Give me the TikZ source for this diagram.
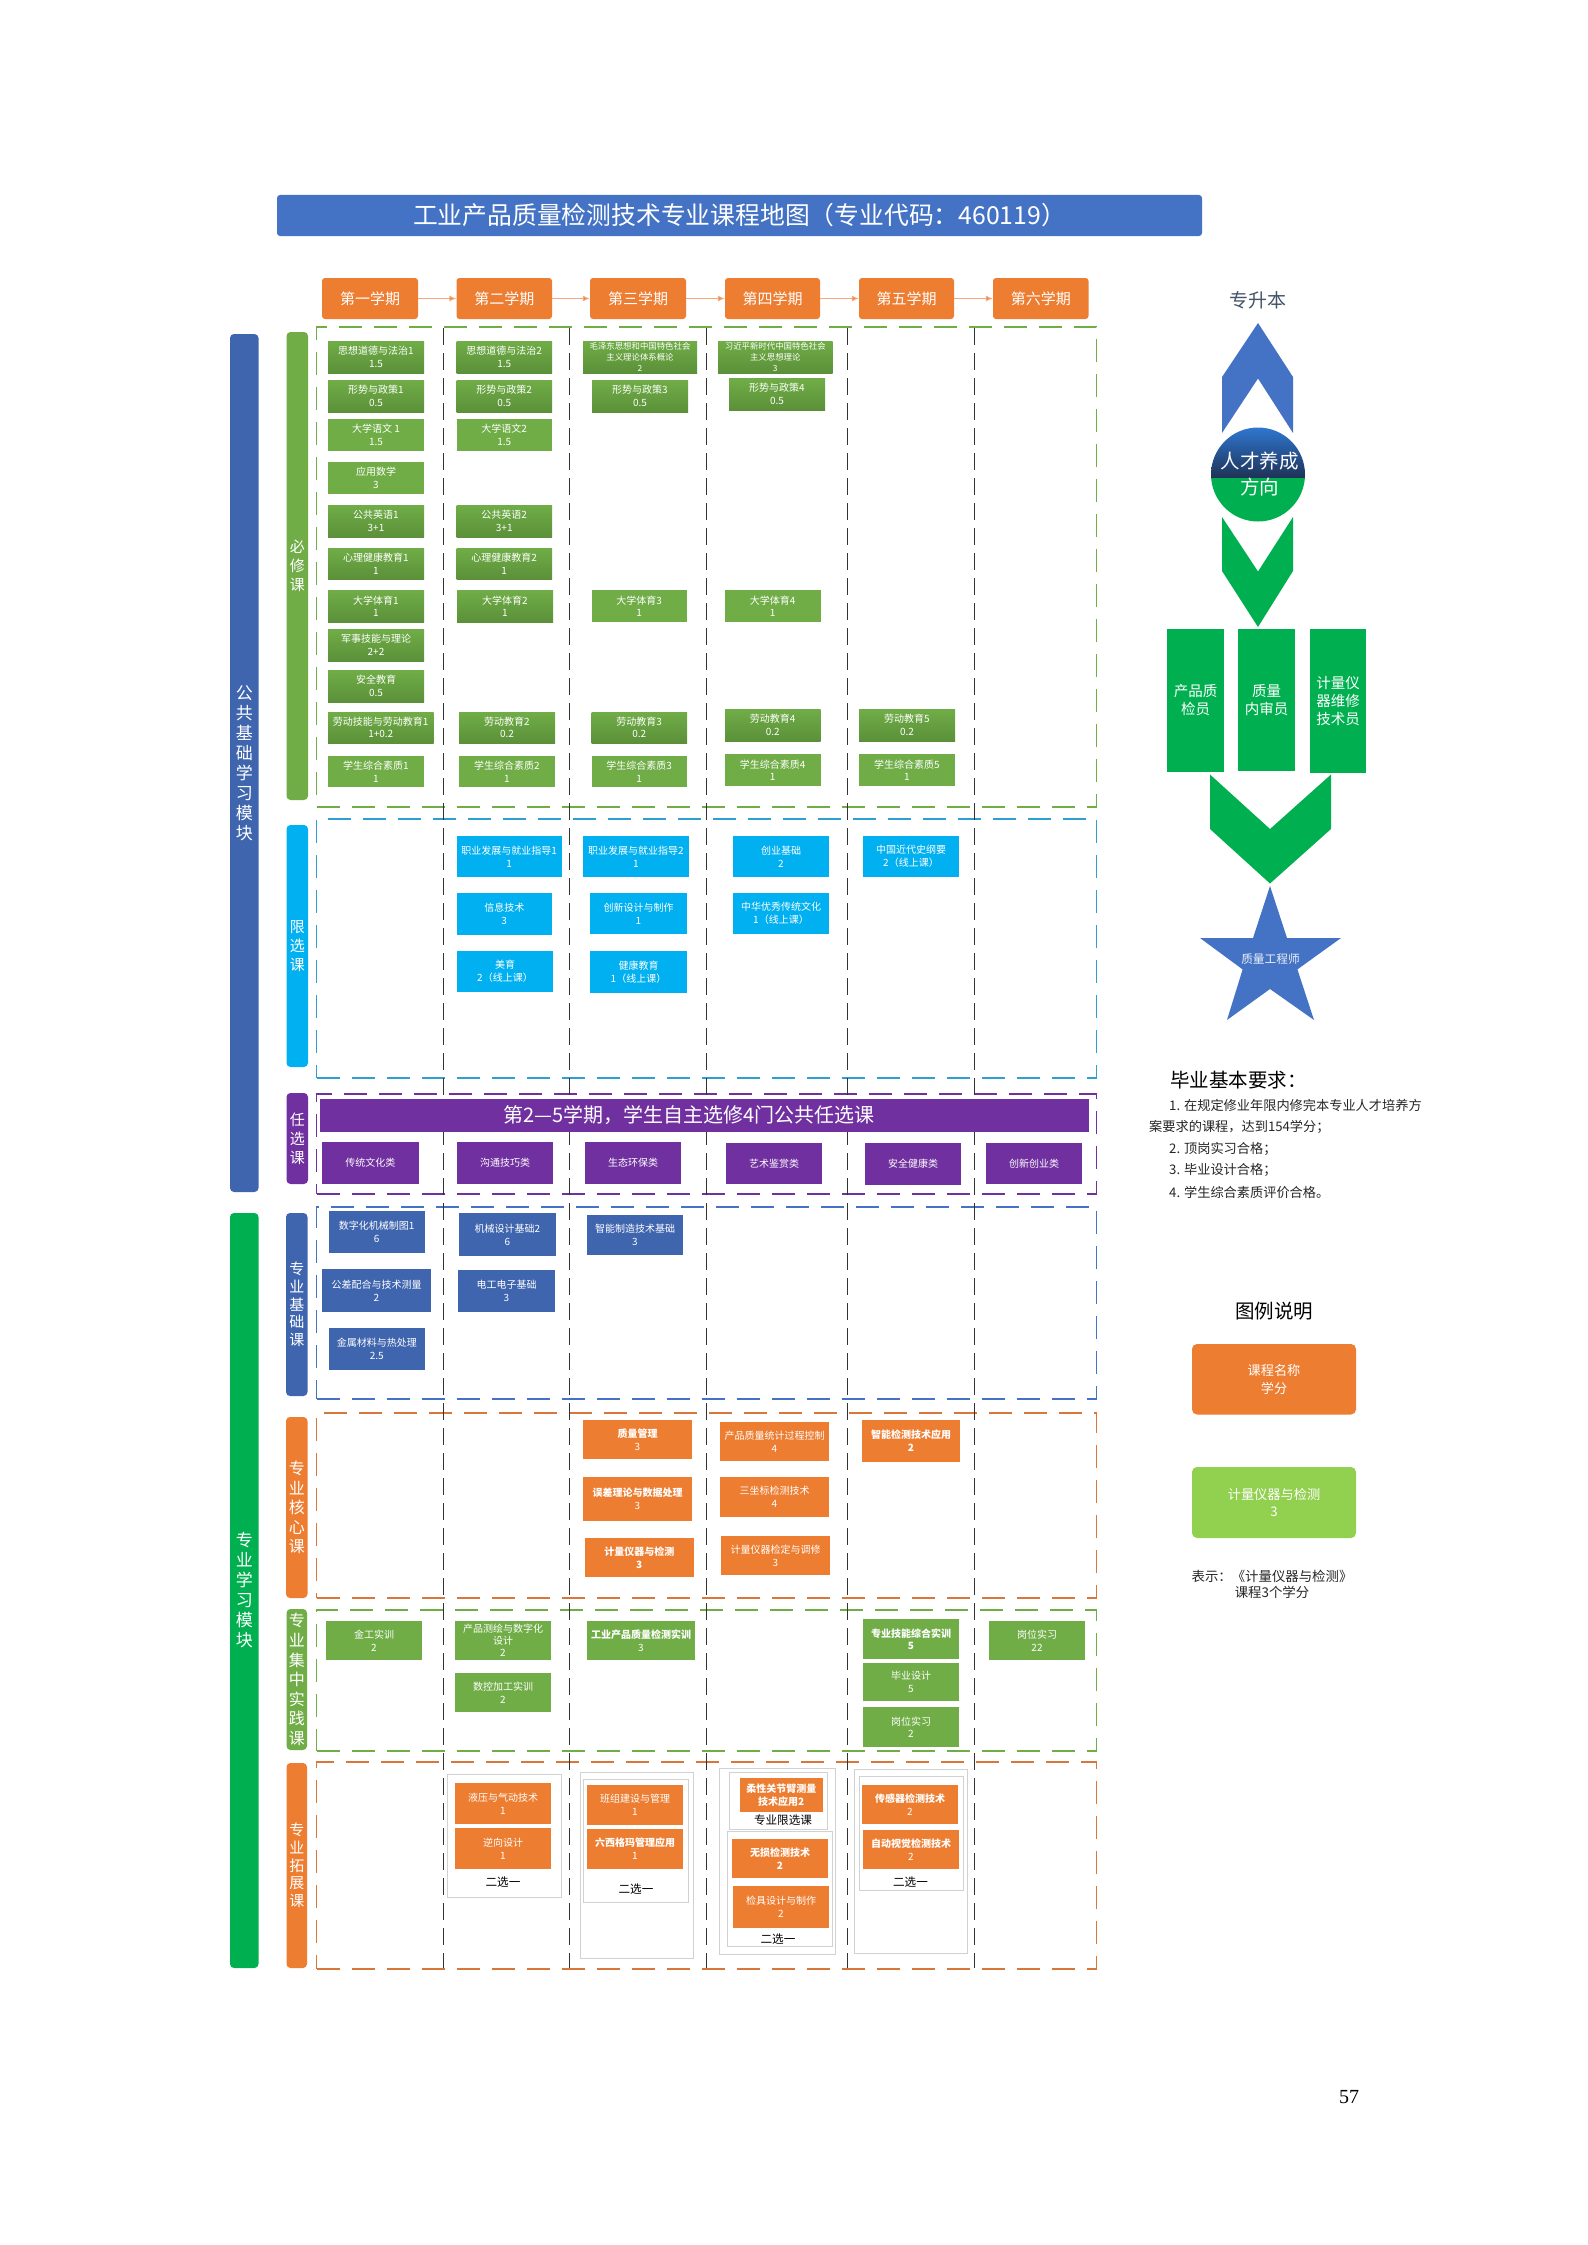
\documentclass[tikz,border=0pt]{standalone}
\usepackage{fontspec}
\setmainfont{Noto Sans CJK SC}
\newfontfamily\pagefont{Liberation Serif}
\usetikzlibrary{arrows.meta,calc}
\definecolor{tblue}{HTML}{4472C4}
\definecolor{dblue}{HTML}{3F65AE}
\definecolor{sky}{HTML}{00B0F0}
\definecolor{skyd}{HTML}{2E9FD0}
\definecolor{pur}{HTML}{7030A0}
\definecolor{org}{HTML}{ED7D31}
\definecolor{orgd}{HTML}{D9763A}
\definecolor{grn}{HTML}{70AD47}
\definecolor{grnd}{HTML}{5B9039}
\definecolor{grnb}{HTML}{00B050}
\definecolor{lime}{HTML}{92D050}
\definecolor{slate}{HTML}{44546A}
\definecolor{arl}{HTML}{F4A87C}
\newcommand{\fs}[2]{\fontsize{#1}{#2}\selectfont}
\newcommand{\bx}[7]{%
  \pgfmathsetmacro\bxcx{(#2+#4)/2}\pgfmathsetmacro\bxcy{(#3+#5)/2}%
  \pgfmathsetmacro\bxw{#4-#2}\pgfmathsetmacro\bxh{#5-#3}%
  \node[#6,minimum width=\bxw pt,minimum height=\bxh pt] (#1) at (\bxcx,\bxcy) {#7};}
\tikzset{
  crs/.style={inner sep=0pt,align=center,text=white,font=\fs{10}{12.5}},
  gg/.style={crs,top color=grn,bottom color=grnd},
  gf/.style={crs,fill=grn},
  sk/.style={crs,fill=sky,font=\fs{10}{13}},
  pu/.style={crs,fill=pur},
  db/.style={crs,fill=dblue,font=\fs{10}{13}},
  og/.style={crs,fill=org,font=\fs{10}{13}},
  ogb/.style={og,font=\fs{10}{13}\bfseries},
  gfb/.style={gf,font=\fs{10}{12.5}\bfseries},
  tiny3/.style={font=\fs{8.4}{11.4}},
  sem/.style={inner sep=0pt,align=center,text=white,fill=org,rounded corners=3pt,font=\fs{15}{18}},
  bar/.style={inner sep=0pt,align=center,text=white,rounded corners=4pt,font=\fs{15}{19}},
  obar/.style={bar,font=\fs{17}{20}},
  frame/.style={draw=#1,line width=1.3pt,dash pattern=on 23pt off 12pt,inner sep=0pt},
  vline/.style={draw=black!80,line width=0.9pt,dash pattern=on 17pt off 8pt},
  semarrow/.style={draw=arl,line width=1pt,-{Latex[length=7pt,width=6pt,fill=org]}},
  grp/.style={draw=black!18,line width=0.7pt,fill=white,inner sep=0pt},
  lbl/.style={inner sep=0pt,text=black,align=center,font=\fs{11.6}{14}},
  job/.style={crs,fill=grnb,font=\fs{14.5}{18}},
  req/.style={inner sep=0pt,anchor=west,text=black!85,font=\fs{13.2}{15}},
}
\begin{document}
\begin{tikzpicture}[x=1pt,y=-1pt]
\useasboundingbox (0,0) rectangle (1587,2245);
\fill[white] (0,0) rectangle (1587,2245);
% title
\bx{title}{277}{195}{1202}{236}{fill=tblue,rounded corners=3pt,inner sep=0pt,text=white,font=\fs{24.8}{28}}{工业产品质量检测技术专业课程地图（专业代码：460119）}
% semesters
\bx{s1}{322}{278}{418}{319}{sem}{第一学期}
\bx{s2}{456.5}{278}{552}{319}{sem}{第二学期}
\bx{s3}{590}{278}{686}{319}{sem}{第三学期}
\bx{s4}{725}{278}{820}{319}{sem}{第四学期}
\bx{s5}{859}{278}{954}{319}{sem}{第五学期}
\bx{s6}{993}{278}{1088.5}{319}{sem}{第六学期}
\draw[semarrow] (s1) -- (s2);
\draw[semarrow] (s2) -- (s3);
\draw[semarrow] (s3) -- (s4);
\draw[semarrow] (s4) -- (s5);
\draw[semarrow] (s5) -- (s6);
% frames
\bx{f1}{316.5}{327}{1096.5}{807}{frame=grn}{}
\bx{f2}{316.5}{819}{1096.5}{1078}{frame=skyd}{}
\bx{f3}{316.5}{1094}{1096.5}{1194}{frame=pur}{}
\bx{f4}{316.5}{1207}{1096.5}{1399}{frame=tblue}{}
\bx{f5}{316.5}{1413}{1096.5}{1598}{frame=orgd}{}
\bx{f6}{316.5}{1610}{1096.5}{1751}{frame=grn}{}
\bx{f7}{316.5}{1762}{1096.5}{1969}{frame=orgd}{}
% semester separators
\foreach \vx [count=\vi] in {443,569,706,847,974}{
  \coordinate (va\vi) at (\vx,328);
  \coordinate (vb\vi) at (\vx,1968);
  \draw[vline] (va\vi) -- (vb\vi);
}
% outer bars
\bx{mod1}{230}{334}{258.5}{1192}{obar,fill=dblue}{公\\共\\基\\础\\学\\习\\模\\块}
\bx{mod2}{230}{1213}{258.5}{1968}{obar,fill=grnb}{专\\业\\学\\习\\模\\块}
% inner bars
\bx{b1}{286.5}{332}{308}{800}{bar,fill=grn}{必\\修\\课}
\bx{b2}{286.5}{825}{308}{1067}{bar,fill=sky}{限\\选\\课}
\bx{b3}{286.5}{1093}{308}{1184}{bar,fill=pur}{任\\选\\课}
\bx{b4}{286}{1213}{307.5}{1396}{bar,fill=dblue,font=\fs{15}{17.7}}{专\\业\\基\\础\\课}
\bx{b5}{286}{1417}{307.5}{1598}{bar,fill=org,font=\fs{16}{19.4}}{专\\业\\核\\心\\课}
\bx{b6}{286.5}{1609}{307}{1750}{bar,fill=grn,font=\fs{16}{19.6}}{专\\业\\集\\中\\实\\践\\课}
\bx{b7}{286.5}{1763}{307}{1968}{bar,fill=org,font=\fs{15}{17.7}}{专\\业\\拓\\展\\课}
% required courses col 1
\bx{a1}{328}{341}{424}{373}{gg}{思想道德与法治1\\1.5}
\bx{a2}{328}{380}{424}{412}{gg}{形势与政策1\\0.5}
\bx{a3}{328}{419}{424}{451}{gf}{大学语文 1\\1.5}
\bx{a4}{328}{462}{424}{494}{gf}{应用数学\\3}
\bx{a5}{328}{505}{424}{537}{gg}{公共英语1\\3+1}
\bx{a6}{328}{548}{424}{579}{gg}{心理健康教育1\\1}
\bx{a7}{328}{590}{424}{622}{gg}{大学体育1\\1}
\bx{a8}{328}{629}{424}{661}{gg}{军事技能与理论\\2+2}
\bx{a9}{328}{670}{424}{702}{gg}{安全教育\\0.5}
\bx{a10}{328}{712}{433.5}{743}{gg}{劳动技能与劳动教育1\\1+0.2}
\bx{a11}{328}{756}{424}{787}{gf}{学生综合素质1\\1}
% col 2
\bx{c1}{456.5}{341}{552}{373}{gg}{思想道德与法治2\\1.5}
\bx{c2}{456.5}{380}{552}{412}{gg}{形势与政策2\\0.5}
\bx{c3}{456.5}{419}{552}{451}{gf}{大学语文2\\1.5}
\bx{c5}{456.5}{505}{552}{537}{gg}{公共英语2\\3+1}
\bx{c6}{456.5}{548}{552}{579}{gg}{心理健康教育2\\1}
\bx{c7}{457}{590}{553}{622}{gg}{大学体育2\\1}
\bx{c10}{459}{712}{555}{743}{gg}{劳动教育2\\0.2}
\bx{c11}{459}{756}{555}{787}{gf}{学生综合素质2\\1}
% col 3
\bx{d1}{583}{341}{697}{373}{gg,tiny3}{毛泽东思想和中国特色社会\\主义理论体系概论\\2}
\bx{d2}{592}{380}{688}{412}{gg}{形势与政策3\\0.5}
\bx{d7}{591.5}{590}{687}{622}{gf}{大学体育3\\1}
\bx{d10}{591.5}{712}{687}{743}{gg}{劳动教育3\\0.2}
\bx{d11}{591.5}{756}{687}{787}{gf}{学生综合素质3\\1}
% col 4
\bx{e1}{718}{341}{832.5}{373}{gg,tiny3}{习近平新时代中国特色社会\\主义思想理论\\3}
\bx{e2}{729}{378}{825}{410}{gg}{形势与政策4\\0.5}
\bx{e7}{725}{590}{820.5}{622}{gf}{大学体育4\\1}
\bx{e10}{725}{709}{820.5}{741}{gg}{劳动教育4\\0.2}
\bx{e11}{725}{754}{820.5}{786}{gf}{学生综合素质4\\1}
% col 5
\bx{g10}{859}{709}{955}{741}{gg}{劳动教育5\\0.2}
\bx{g11}{859}{754}{955}{786}{gf}{学生综合素质5\\1}
% limited electives
\bx{h1}{456.5}{836}{562}{877}{sk}{职业发展与就业指导1\\1}
\bx{h2}{583}{836}{689}{877}{sk}{职业发展与就业指导2\\1}
\bx{h3}{733}{836}{829}{877}{sk}{创业基础\\2}
\bx{h4}{863}{836}{959}{877}{sk}{中国近代史纲要\\2（线上课）}
\bx{h5}{456.5}{893}{552}{935}{sk}{信息技术\\3}
\bx{h6}{590}{893}{687}{934}{sk}{创新设计与制作\\1}
\bx{h7}{733}{893}{829}{934}{sk}{中华优秀传统文化\\1（线上课）}
\bx{h8}{457}{951}{553}{992}{sk}{美育\\2（线上课）}
\bx{h9}{590}{951}{687}{993}{sk}{健康教育\\1（线上课）}
% free electives
\bx{banner}{320}{1099}{1088.5}{1132}{pu,font=\fs{20}{24}}{\hspace*{-30pt}第2—5学期，学生自主选修4门公共任选课}
\bx{i1}{322}{1142}{418.5}{1184}{pu}{传统文化类}
\bx{i2}{457}{1142}{553}{1184}{pu}{沟通技巧类}
\bx{i3}{585}{1142}{681}{1184}{pu}{生态环保类}
\bx{i4}{726}{1143}{822}{1184}{pu}{艺术鉴赏类}
\bx{i5}{865}{1143}{961}{1185}{pu}{安全健康类}
\bx{i6}{986}{1143}{1082}{1184}{pu}{创新创业类}
% foundation
\bx{j1}{328.5}{1211}{425}{1253}{db}{数字化机械制图1\\6}
\bx{j2}{322}{1269}{431}{1312}{db}{公差配合与技术测量\\2}
\bx{j3}{328.5}{1328}{425}{1370}{db}{金属材料与热处理\\2.5}
\bx{j4}{459}{1213}{556}{1256}{db}{机械设计基础2\\6}
\bx{j5}{458}{1270}{555}{1312}{db}{电工电子基础\\3}
\bx{j6}{587}{1215}{683}{1255}{db}{智能制造技术基础\\3}
% core
\bx{k1}{583}{1420}{692}{1459}{ogb}{质量管理\\\mdseries 3}
\bx{k2}{583}{1477}{692}{1521}{ogb}{误差理论与数据处理\\\mdseries 3}
\bx{k3}{584.5}{1538}{694}{1577}{ogb}{计量仪器与检测\\3}
\bx{k4}{720}{1422}{829}{1461}{og}{产品质量统计过程控制\\4}
\bx{k5}{720}{1477}{829}{1517}{og}{三坐标检测技术\\4}
\bx{k6}{721}{1536}{830}{1575}{og}{计量仪器检定与调修\\3}
\bx{k7}{862}{1420}{960}{1462}{ogb}{智能检测技术应用\\2}
% practice
\bx{m1}{326}{1621}{422}{1660}{gf}{金工实训\\2}
\bx{m2}{455}{1621}{551}{1660}{gf,font=\fs{10}{12}}{产品测绘与数字化\\设计\\2}
\bx{m3}{455}{1673}{551}{1712}{gf}{数控加工实训\\2}
\bx{m4}{587}{1621}{695}{1660}{gfb}{工业产品质量检测实训\\\mdseries 3}
\bx{m5}{863}{1619}{959}{1659}{gfb}{专业技能综合实训\\5}
\bx{m6}{863}{1663}{959}{1701}{gf}{毕业设计\\5}
\bx{m7}{863}{1707}{959}{1747}{gf}{岗位实习\\2}
\bx{m8}{989}{1621}{1085}{1660}{gf}{岗位实习\\22}
% extension groups
\bx{p1}{447}{1774}{561.5}{1897}{grp}{}
\bx{p2o}{580}{1772}{693.5}{1958}{grp}{}
\bx{p2}{583}{1779}{688}{1902}{grp}{}
\bx{p3o}{719}{1768}{835}{1954}{grp}{}
\bx{p3a}{729}{1772}{827}{1829}{grp}{}
\bx{p3b}{727}{1831}{832.5}{1946}{grp}{}
\bx{p4o}{854}{1769}{967}{1953}{grp}{}
\bx{p4}{859}{1776}{963}{1890}{grp}{}
\bx{n1}{455}{1783}{551}{1824}{og}{液压与气动技术\\1}
\bx{n2}{455}{1828}{551}{1869}{og}{逆向设计\\1}
\node[lbl] (t1) at (503,1882) {二选一};
\bx{n3}{587}{1785}{683}{1825}{og}{班组建设与管理\\1}
\bx{n4}{587}{1829}{683}{1869}{ogb}{六西格玛管理应用\\\mdseries 1}
\node[lbl] (t2) at (636,1889) {二选一};
\bx{n5}{739.5}{1778}{823}{1812}{ogb}{柔性关节臂测量\\技术应用2}
\node[lbl] (t3) at (783,1820) {专业限选课};
\bx{n6}{732}{1839}{828}{1878}{ogb}{无损检测技术\\2}
\bx{n7}{733}{1886}{829}{1928}{og}{检具设计与制作\\2}
\node[lbl] (t4) at (778,1939) {二选一};
\bx{n8}{862}{1785}{958}{1824}{ogb}{传感器检测技术\\\mdseries 2}
\bx{n9}{863}{1830}{959}{1869}{ogb}{自动视觉检测技术\\\mdseries 2}
\node[lbl] (t5) at (910.5,1882) {二选一};
% talent direction
\node[inner sep=0pt,text=slate,font=\fs{19}{22}] (up) at (1258,300) {专升本};
\fill[tblue] (1258,323) -- (1293,377) -- (1293,433) -- (1258,378.5) -- (1222,433) -- (1222,377) -- cycle;
\fill[grnb] (1222,517) -- (1258,571.5) -- (1293,517) -- (1293,571) -- (1258,627) -- (1222,571) -- cycle;
\begin{scope}
\clip (1258,474.5) circle[radius=47];
\fill[grnb] (1205,477) rectangle (1310,525);
\shade[top color=blue!45!cyan!30!tblue,bottom color=tblue!45!black] (1205,425) rectangle (1310,477);
\end{scope}
\node[inner sep=0pt,text=white,font=\fs{19.5}{26.5},align=center] (ta) at (1259.5,474) {人才养成\\方向};
\bx{r1}{1167}{629}{1224}{772}{job}{产品质\\检员}
\bx{r2}{1238}{629}{1295}{770.5}{job}{质量\\内审员}
\bx{r3}{1310}{629}{1366}{772.5}{job}{计量仪\\器维修\\技术员}
\fill[grnb] (1210,774.5) -- (1270,829) -- (1331,774.5) -- (1331,829) -- (1270,883.5) -- (1210,829) -- cycle;
\fill[tblue] (1270,886) -- (1287,938) -- (1341,938) -- (1297.4,969.4) -- (1314,1020) -- (1270,989) -- (1227,1020) -- (1242.6,969.4) -- (1200,938) -- (1253,938) -- cycle;
\node[inner sep=0pt,text=white!90!tblue,font=\fs{11.7}{14}] (star) at (1270.5,959) {质量工程师};
% requirements
\node[inner sep=0pt,anchor=west,text=black,font=\fs{19.5}{22}] (rq) at (1170,1080) {毕业基本要求：};
\node[req] (rq1) at (1169,1105.5) {1. 在规定修业年限内修完本专业人才培养方};
\node[req] (rq1b) at (1149,1127) {案要求的课程，达到154学分；};
\node[req] (rq2) at (1169,1149) {2. 顶岗实习合格；};
\node[req] (rq3) at (1169,1170) {3. 毕业设计合格；};
\node[req] (rq4) at (1169,1192) {4. 学生综合素质评价合格。};
% legend
\node[inner sep=0pt,text=black,font=\fs{19.5}{24}] (lg) at (1274,1311) {图例说明};
\bx{l1}{1192}{1344}{1356}{1414.5}{crs,fill=org,rounded corners=5pt,font=\fs{13.2}{18}}{课程名称\\学分}
\bx{l2}{1192}{1467}{1356}{1538}{crs,fill=lime,rounded corners=5pt,font=\fs{13.2}{17}}{计量仪器与检测\\3}
\node[inner sep=0pt,align=center,text=black!85,font=\fs{13.4}{16}] (lgt) at (1272,1584) {表示：《计量仪器与检测》\\课程3个学分};
% page number
\node[inner sep=0pt,text=black,font=\pagefont\fs{20}{24}] (pg) at (1349,2097) {57};
\end{tikzpicture}
\end{document}
